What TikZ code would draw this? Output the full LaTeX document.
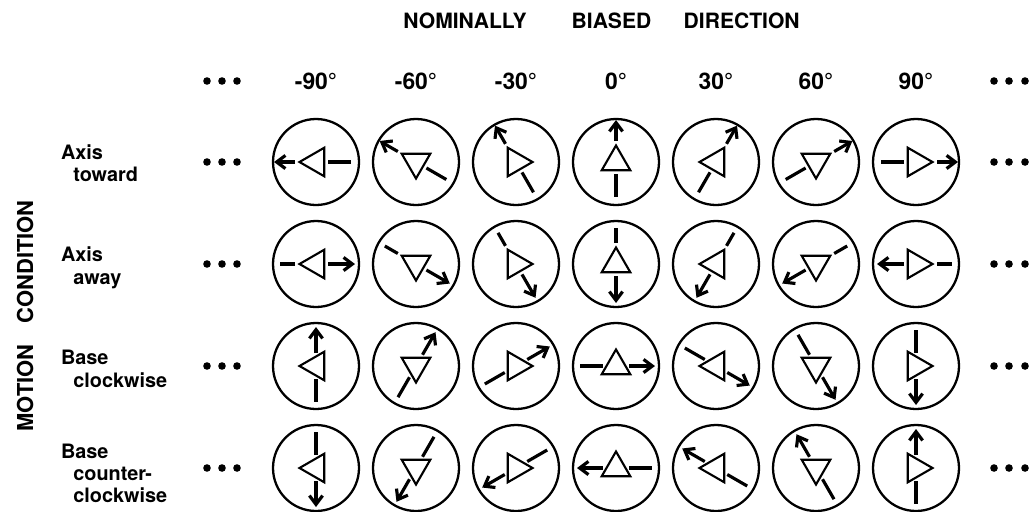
\documentclass[tikz,border=0pt]{standalone}
\usepackage{fontspec}
\setsansfont{TeX Gyre Heros}
\usetikzlibrary{arrows.meta,calc}

\begin{document}
\begin{tikzpicture}[x=0.02cm,y=0.02cm,
  txt/.style={font=\sffamily\bfseries\fontsize{11.3}{12.7}\selectfont,inner sep=0pt},
  big/.style={txt,font=\sffamily\bfseries\fontsize{12}{14}\selectfont},
  dial/.style={draw,circle,line width=1.3pt,minimum size=1.72cm,inner sep=0pt},
  tri/.style={line width=1.2pt},
  bar/.style={line width=1.8pt},
  tip/.style={line width=1.8pt,-{Straight Barb[length=5pt,width=7.5pt]}}]
\useasboundingbox (0,0) rectangle (1031,-511);
\node[big] (nom) at (465,-21) {NOMINALLY};
\node[big] (bias) at (611.5,-21) {BIASED};
\node[big] (dir) at (741.7,-21) {DIRECTION};
\node[big,font=\sffamily\bfseries\fontsize{12.5}{14}\selectfont,rotate=90] (motion) at (25,-316) {MOTION\hspace{12pt}CONDITION};
\foreach \ang [count=\col] in {-90,-60,-30,0,30,60,90} {
  \node[big,font=\sffamily\bfseries\fontsize{13}{15}\selectfont] (h\col) at ({316+100*(\col-1)},-81) {\ang°};
}
\node[txt,align=left,anchor=north west] (lab1) at (60.7,-144.4) {Axis\\\hspace*{7pt}toward};
\node[txt,align=left,anchor=north west] (lab2) at (60.7,-246.7) {Axis\\\hspace*{7pt}away};
\node[txt,align=left,anchor=north west] (lab3) at (60.7,-350) {Base\\\hspace*{7pt}clockwise};
\node[txt,align=left,anchor=north west] (lab4) at (60.7,-443.3) {Base\\\hspace*{7pt}counter-\\\hspace*{7pt}clockwise};
\foreach \yy in {-81,-162,-264,-366,-468} {
  \foreach \xx in {207,222,237,994,1009,1025} {
    \fill (\xx,\yy) circle (3.8);
  }
}
\foreach \row/\yy/\arrA/\arrS/\arrE/\barA/\barS/\barE in {1/-162/0/21/42/180/12/35,2/-264/180/12/39/0/21/36,3/-366/-90/13/39/90/13/36,4/-468/90/13/39/-90/13/36} {
  \foreach \ang [count=\col] in {-90,-60,-30,0,30,60,90} {
    \pgfmathsetmacro{\pa}{90-(\ang)}
    \pgfmathsetmacro{\pb}{\pa+120}
    \pgfmathsetmacro{\pc}{\pa+240}
    \pgfmathsetmacro{\qa}{\pa+(\arrA)}
    \pgfmathsetmacro{\qb}{\pa+(\barA)}
    \node[dial] (r\row-\col) at ({316+100*(\col-1)},\yy) {};
    \draw[tri] ($(r\row-\col)+(\pa:16.5)$) -- ($(r\row-\col)+(\pb:16.5)$) -- ($(r\row-\col)+(\pc:16.5)$) -- cycle;
    \draw[tip] ($(r\row-\col)+(\qa:\arrS)$) -- ($(r\row-\col)+(\qa:\arrE)$);
    \draw[bar] ($(r\row-\col)+(\qb:\barS)$) -- ($(r\row-\col)+(\qb:\barE)$);
  }
}
\end{tikzpicture}
\end{document}
